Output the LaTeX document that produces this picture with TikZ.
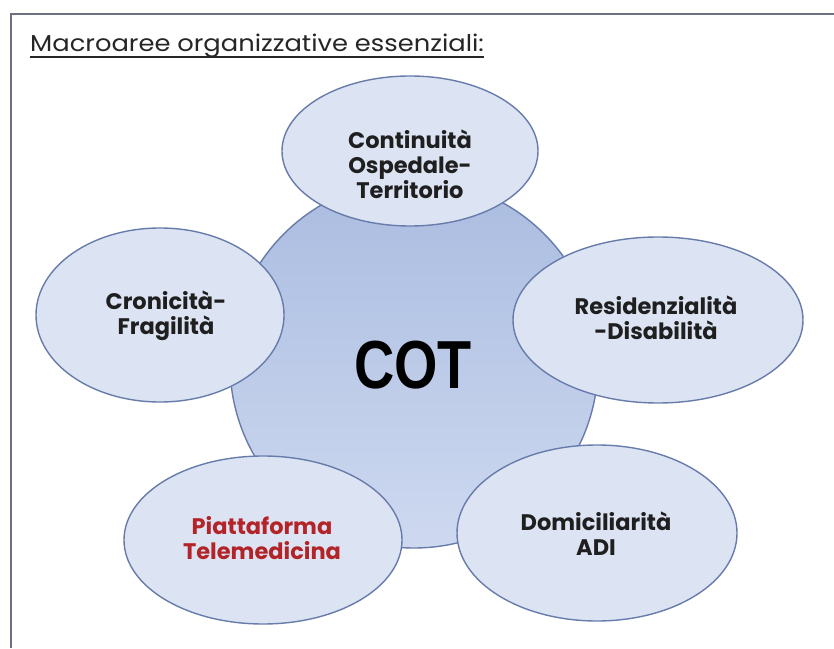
\documentclass[tikz,border=0pt]{standalone}
\usepackage{fontspec}
\setmainfont{Poppins}
\newfontfamily\cotfont{Liberation Sans}
\usetikzlibrary{shapes.geometric}
\definecolor{framec}{RGB}{108,112,128}
\definecolor{bubfill}{RGB}{220,228,243}
\definecolor{bubdraw}{RGB}{104,124,172}
\definecolor{cottop}{RGB}{170,188,224}
\definecolor{cotbot}{RGB}{206,217,240}
\definecolor{redtxt}{RGB}{178,36,40}
\tikzset{
  bub/.style={ellipse, draw=bubdraw, fill=bubfill, line width=1.4pt, inner sep=0pt, outer sep=0pt},
  lbl/.style={align=center, font=\fontsize{22.5}{25}\selectfont\bfseries, text=black!88, inner sep=0pt},
}
\begin{document}
\begin{tikzpicture}[x=1pt,y=1pt]
\useasboundingbox[fill=white] (0,0) rectangle (834,648);
% frame
\draw[framec, line width=2.2pt] (11,0) -- (11,634) -- (834,634);
% title
\node[anchor=base west, inner sep=0pt, font=\fontsize{23}{26}\selectfont, text=black!85] (title) at (30,596) {\scalebox{1.12}[1]{Macroaree organizzative essenziali:}};
\draw[black!85, line width=1.1pt] ([yshift=-5pt]title.base west) -- ([yshift=-5pt]title.base east);
% central circle
\node[circle, draw=bubdraw, line width=1.4pt, top color=cottop, bottom color=cotbot, minimum size=368pt, inner sep=0pt] (cot) at (414,284) {};
\node[font=\cotfont\bfseries\fontsize{68}{68}\selectfont, inner sep=0pt] (cott) at (413,283) {\scalebox{0.82}[1]{COT}};
% satellites
\node[bub, minimum width=256pt, minimum height=150pt] (top) at (410,497) {};
\node[lbl] (topt) at (410,484) {Continuità\\Ospedale-\\Territorio};
\node[bub, minimum width=248pt, minimum height=174pt] (left) at (160,333) {};
\node[lbl] (leftt) at (166,332) {Cronicità-\\Fragilità};
\node[bub, minimum width=290pt, minimum height=166pt] (right) at (658,328) {};
\node[lbl] (rightt) at (656,330) {Residenzialità\\-Disabilità};
\node[bub, minimum width=278pt, minimum height=168pt] (bl) at (263,108) {};
\node[lbl, text=redtxt] (blt) at (262,110) {Piattaforma\\Telemedicina};
\node[bub, minimum width=280pt, minimum height=176pt] (br) at (597,115) {};
\node[lbl] (brt) at (596,114) {Domiciliarità\\ADI};
\end{tikzpicture}
\end{document}
